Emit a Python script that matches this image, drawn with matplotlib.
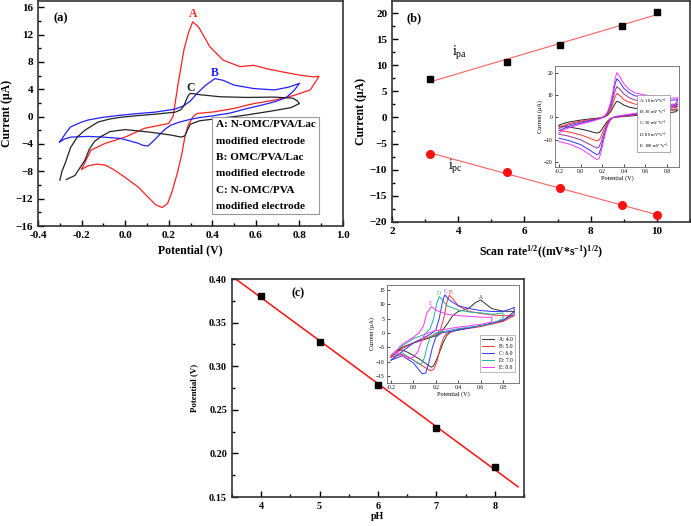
import numpy as np
import matplotlib
matplotlib.use("Agg")
import matplotlib.pyplot as plt
from matplotlib.ticker import MultipleLocator

plt.rcParams['font.family'] = ['Liberation Serif', 'DejaVu Serif']
plt.rcParams['font.weight'] = 'bold'
plt.rcParams['mathtext.fontset'] = 'custom'
plt.rcParams['mathtext.rm'] = 'Liberation Serif:weight=normal'
plt.rcParams['mathtext.bf'] = 'Liberation Serif:weight=bold'
plt.rcParams['mathtext.default'] = 'bf'

# ---------- panel (a): CV of three electrodes ----------
a_V_A = [-0.20, -0.157, -0.09, 0.0, 0.09, 0.20, 0.22, 0.243, 0.27, 0.29, 0.31, 0.337, 0.389, 0.45,
         0.527, 0.59, 0.65, 0.727, 0.804, 0.865, 0.89,
         0.85, 0.775, 0.685, 0.59, 0.50, 0.41, 0.33, 0.312, 0.29, 0.275, 0.26, 0.24, 0.215,
         0.195, 0.17, 0.14, 0.10, 0.06, 0.0, -0.05, -0.09, -0.13, -0.17, -0.20]
a_I_A = [-7.7, -4.9, -3.9, -3.0, -1.7, -1.0, 0.0, 4.8, 9.8, 12.2, 13.85, 13.1, 10.2, 8.25,
         7.3, 7.5, 7.0, 6.5, 6.05, 5.8, 5.9,
         3.9, 3.1, 2.4, 1.9, 1.2, 0.7, 0.45, 0.0, -1.2, -2.8, -5.5, -8.2, -11.0,
         -12.7, -13.3, -12.9, -11.6, -10.3, -8.9, -7.8, -7.1, -6.95, -7.2, -7.7]

a_V_B = [-0.30, -0.27, -0.25, -0.20, -0.17, -0.10, -0.02, 0.06, 0.137, 0.23, 0.27, 0.30, 0.33, 0.37,
         0.412, 0.45, 0.50, 0.59, 0.685, 0.75, 0.80,
         0.775, 0.74, 0.69, 0.63, 0.55, 0.48, 0.40, 0.33, 0.30, 0.25, 0.21, 0.185, 0.165, 0.135,
         0.105, 0.08, 0.06, -0.02, -0.10, -0.17, -0.25, -0.28, -0.30]
a_I_B = [-3.7, -2.3, -1.5, -0.8, -0.5, -0.1, 0.2, 0.45, 0.65, 1.1, 1.6, 2.3, 3.4, 4.6,
         5.55, 5.3, 4.6, 4.1, 3.9, 4.3, 4.85,
         3.8, 2.8, 2.2, 1.7, 1.1, 0.5, 0.1, -0.2, -0.4, -0.8, -1.25, -1.8, -2.4, -3.4,
         -4.3, -4.2, -3.9, -3.2, -3.0, -2.9, -3.0, -3.3, -3.7]

a_V_C = [-0.30, -0.29, -0.275, -0.25, -0.22, -0.185, -0.125, -0.07, -0.02, 0.06, 0.137, 0.23, 0.255,
         0.27, 0.28, 0.29, 0.30, 0.343, 0.435, 0.56, 0.68, 0.77, 0.79, 0.80,
         0.76, 0.67, 0.55, 0.45, 0.343, 0.30, 0.285, 0.275, 0.257, 0.21, 0.12, 0.06, 0.0,
         -0.07, -0.11, -0.14, -0.165, -0.185, -0.21, -0.23, -0.27]
a_I_C = [-9.3, -8.0, -6.8, -4.5, -3.0, -2.0, -0.8, -0.35, -0.1, 0.15, 0.35, 0.65, 1.0,
         1.6, 2.4, 3.1, 3.4, 3.2, 2.9, 2.8, 2.85, 2.7, 2.3, 1.9,
         1.3, 0.8, 0.2, -0.2, -0.6, -1.1, -2.0, -2.8, -3.0, -2.7, -2.3, -2.1, -1.9,
         -2.2, -2.9, -3.6, -4.8, -6.4, -7.6, -8.6, -9.2]

# ---------- panel (b): peak current vs sqrt(scan rate) ----------
b_x = [3.16, 5.48, 7.07, 8.94, 10.0]
b_ipa = [7.3, 10.7, 13.9, 17.6, 20.1]
b_ipc = [-7.0, -10.5, -13.5, -16.8, -18.7]

# inset (b): CVs at 10..100 mV/s
ib_Vf = [-0.2, -0.15, -0.1, 0.0, 0.1, 0.18, 0.22, 0.25, 0.28, 0.30, 0.32, 0.335, 0.36, 0.40, 0.45,
         0.5, 0.6, 0.7, 0.8, 0.9]
ib_Vr = [0.9, 0.88, 0.8, 0.7, 0.6, 0.5, 0.4, 0.33, 0.3, 0.27, 0.24, 0.21, 0.19, 0.17, 0.15, 0.12,
         0.08, 0.0, -0.1, -0.2]
ib_f = {
    'A': [-3.5, -2.6, -2.0, -1.2, -0.6, -0.2, 0.2, 1.0, 2.6, 4.5, 6.3, 7.2, 6.8, 5.5, 4.6, 4.1, 3.7,
          3.4, 3.2, 3.4],
    'B': [-4.5, -3.5, -2.7, -1.7, -0.9, -0.3, 0.3, 1.4, 3.7, 6.5, 9.3, 10.7, 9.9, 8.0, 6.8, 6.0, 5.3,
          4.8, 4.6, 5.0],
    'C': [-5.0, -4.0, -3.2, -2.1, -1.2, -0.4, 0.4, 1.8, 4.8, 8.5, 12.0, 13.8, 12.8, 10.5, 8.8, 7.8,
          7.0, 6.3, 5.8, 6.0],
    'D': [-6.0, -4.8, -3.9, -2.6, -1.5, -0.5, 0.5, 2.2, 6.0, 10.5, 15.0, 17.3, 16.0, 13.0, 11.0, 9.7,
          8.8, 8.0, 7.5, 8.0],
    'E': [-7.0, -5.5, -4.5, -3.0, -1.8, -0.6, 0.5, 2.5, 7.0, 12.0, 17.5, 20.0, 18.5, 15.0, 12.5, 11.0,
          10.0, 9.0, 8.5, 8.8],
}
ib_r = {
    'A': [3.4, 2.5, 2.0, 1.5, 1.1, 0.8, 0.4, 0.1, -0.1, -0.7, -2.2, -4.3, -5.9, -6.8, -7.0, -6.7,
          -6.1, -5.2, -4.4, -3.9],
    'B': [5.0, 3.8, 3.0, 2.2, 1.6, 1.1, 0.6, 0.2, -0.1, -0.9, -3.0, -6.0, -8.5, -10.2, -10.5, -10.0,
          -9.2, -7.8, -6.6, -5.8],
    'C': [6.0, 4.6, 3.6, 2.6, 1.9, 1.3, 0.7, 0.3, -0.1, -1.1, -3.8, -7.8, -11.0, -13.3, -13.7, -13.0,
          -12.0, -10.0, -8.5, -7.5],
    'D': [8.0, 5.5, 4.2, 3.0, 2.2, 1.6, 0.9, 0.4, 0.0, -1.3, -4.5, -9.5, -13.5, -16.3, -16.7, -15.8,
          -14.5, -12.2, -10.5, -9.3],
    'E': [8.8, 6.0, 4.5, 3.3, 2.5, 1.8, 1.0, 0.5, 0.0, -1.5, -5.0, -11.0, -15.5, -18.5, -18.8, -18.0,
          -16.5, -14.0, -12.0, -10.8],
}
ib_colors = {'A': '#222222', 'B': '#ff3333', 'C': '#993399', 'D': '#3333ff', 'E': '#ff33ff'}
ib_legend = [r'A: 10 mV*s$^{\mathrm{-1}}$', r'B: 30 mV*s$^{\mathrm{-1}}$', r'C: 50 mV*s$^{\mathrm{-1}}$',
             r'D: 80 mV*s$^{\mathrm{-1}}$', r'E: 100 mV*s$^{\mathrm{-1}}$']

# ---------- panel (c): formal potential vs pH ----------
c_pH = [4, 5, 6, 7, 8]
c_E = [0.381, 0.328, 0.278, 0.229, 0.184]

# inset (c): CVs at pH 4..8
ic_Vf = {
    'A': [-0.2, -0.1, 0.0, 0.1, 0.2, 0.25, 0.3, 0.35, 0.4, 0.45, 0.5, 0.55, 0.6, 0.65, 0.7, 0.8, 0.9],
    'B': [-0.2, -0.1, 0.0, 0.1, 0.2, 0.24, 0.27, 0.3, 0.32, 0.35, 0.4, 0.5, 0.6, 0.7, 0.8, 0.9],
    'C': [-0.2, -0.1, 0.0, 0.1, 0.15, 0.2, 0.23, 0.26, 0.28, 0.32, 0.4, 0.5, 0.6, 0.7, 0.8, 0.88, 0.9],
    'D': [-0.2, -0.1, 0.0, 0.1, 0.15, 0.18, 0.21, 0.23, 0.26, 0.3, 0.4, 0.5, 0.6, 0.7, 0.8],
    'E': [-0.2, -0.1, 0.0, 0.05, 0.09, 0.12, 0.16, 0.2, 0.3, 0.4, 0.5, 0.6, 0.7],
}
ic_If = {
    'A': [-8.0, -5.0, -3.5, -2.3, -1.0, 0.5, 3.0, 6.0, 7.5, 8.0, 8.8, 10.5, 11.5, 10.0, 8.5, 7.6, 7.5],
    'B': [-8.5, -5.5, -3.5, -2.0, -0.5, 1.0, 5.0, 11.0, 13.2, 12.0, 9.5, 7.5, 6.8, 6.3, 6.0, 6.0],
    'C': [-9.5, -6.5, -3.5, -1.5, -0.5, 1.0, 5.0, 11.0, 13.3, 11.5, 9.5, 8.5, 7.8, 7.5, 7.5, 8.5, 9.0],
    'D': [-8.0, -4.5, -2.0, -0.5, 1.5, 5.0, 10.5, 12.7, 11.5, 9.5, 8.0, 7.3, 7.0, 6.5, 7.0],
    'E': [-8.0, -4.0, -1.5, 0.0, 2.5, 7.0, 9.2, 8.0, 6.5, 6.0, 5.8, 5.5, 5.5],
}
ic_Vr = {
    'A': [0.9, 0.8, 0.7, 0.6, 0.5, 0.4, 0.33, 0.3, 0.27, 0.24, 0.21, 0.18, 0.16, 0.12, 0.05, -0.05,
          -0.1, -0.15, -0.2],
    'B': [0.9, 0.8, 0.6, 0.4, 0.3, 0.27, 0.24, 0.21, 0.18, 0.15, 0.1, 0.0, -0.1, -0.2],
    'C': [0.9, 0.8, 0.6, 0.4, 0.25, 0.2, 0.17, 0.14, 0.11, 0.08, 0.04, 0.0, -0.1, -0.2],
    'D': [0.8, 0.7, 0.6, 0.4, 0.2, 0.15, 0.12, 0.1, 0.07, 0.04, 0.0, -0.1, -0.2],
    'E': [0.7, 0.6, 0.4, 0.2, 0.1, 0.07, 0.04, 0.0, -0.05, -0.1, -0.15, -0.2],
}
ic_Ir = {
    'A': [7.5, 4.2, 3.2, 2.5, 1.8, 1.2, 0.3, -0.8, -3.0, -6.0, -9.0, -11.5, -12.0, -11.0, -9.0, -6.8,
          -6.0, -6.2, -8.0],
    'B': [6.0, 4.0, 2.2, 1.0, 0.0, -1.5, -5.0, -10.0, -12.8, -13.2, -12.0, -9.5, -7.5, -8.5],
    'C': [6.5, 4.5, 2.5, 1.0, 0.0, -1.5, -5.0, -10.0, -14.0, -14.3, -12.5, -10.5, -8.0, -9.5],
    'D': [5.0, 3.2, 2.5, 1.5, 0.0, -1.5, -5.0, -8.5, -11.0, -10.8, -9.5, -7.0, -8.0],
    'E': [3.8, 3.0, 2.0, 0.8, -0.5, -3.0, -6.5, -8.5, -9.0, -8.0, -6.5, -8.0],
}
ic_colors = {'A': '#333333', 'B': '#ff3333', 'C': '#3333ff', 'D': '#20b0a0', 'E': '#ff33ff'}
ic_legend = ['A: 4.0', 'B: 5.0', 'C: 6.0', 'D: 7.0', 'E: 8.0']


def style_main(ax, size=8):
    for s in ax.spines.values():
        s.set_linewidth(1.2)
        s.set_color('#333333')
    ax.tick_params(which='both', direction='in', top=False, right=False, labelsize=size, width=1)
    ax.tick_params(which='major', length=4)
    ax.tick_params(which='minor', length=2)
    for lab in ax.get_xticklabels() + ax.get_yticklabels():
        lab.set_fontweight('bold')


def style_inset(ax):
    for s in ax.spines.values():
        s.set_linewidth(0.6)
        s.set_color('#666666')
    ax.tick_params(which='both', direction='in', labelsize=4, width=0.5, length=2, pad=1.5)
    for lab in ax.get_xticklabels() + ax.get_yticklabels():
        lab.set_fontweight('normal')


fig = plt.figure(figsize=(6.91, 5.26), dpi=100)

# (a)
ax1 = fig.add_axes([0.055, 0.5703, 0.4414, 0.4278])
ax1.plot(a_V_A, a_I_A, color='#ff2020', lw=0.9)
ax1.plot(a_V_B, a_I_B, color='#2020ff', lw=0.9)
ax1.plot(a_V_C, a_I_C, color='#222222', lw=0.9)
ax1.set_xlim(-0.4, 1.0)
ax1.set_ylim(-16, 16.9)
ax1.xaxis.set_minor_locator(MultipleLocator(0.1))
ax1.yaxis.set_major_locator(MultipleLocator(4))
ax1.yaxis.set_minor_locator(MultipleLocator(2))
ax1.set_xticks(np.arange(-0.4, 1.01, 0.2))
ax1.set_xticklabels(['-0.4', '-0.2', '0.0', '0.2', '0.4', '0.6', '0.8', '1.0'])
style_main(ax1)
ax1.set_xlabel('Potential (V)', fontsize=8.5, fontweight='bold', labelpad=3)
ax1.set_ylabel('Current (μA)', fontsize=8.5, fontweight='bold', labelpad=2)
ax1.text(0.05, 0.95, '(a)', transform=ax1.transAxes, fontsize=9, fontweight='bold', va='top')
ax1.text(0.31, 14.6, 'A', color='#ff2020', fontsize=8.5, fontweight='bold', ha='center')
ax1.text(0.41, 5.9, 'B', color='#2020ff', fontsize=8.5, fontweight='bold', ha='center')
ax1.text(0.30, 3.7, 'C', color='#222222', fontsize=8.5, fontweight='bold', ha='center')
ax1.text(0.583, 0.47, 'A: N-OMC/PVA/Lac\nmodified electrode\nB: OMC/PVA/Lac\nmodified electrode\n'
         'C: N-OMC/PVA\nmodified electrode', transform=ax1.transAxes, fontsize=8.1, fontweight='bold',
         va='top', ha='left', linespacing=2.05,
         bbox=dict(boxstyle='square,pad=0.3', fc='white', ec='#999999', lw=0.8))

# (b)
ax2 = fig.add_axes([0.5673, 0.578, 0.4313, 0.4201])
fit_a = np.polyfit(b_x, b_ipa, 1)
fit_c = np.polyfit(b_x, b_ipc, 1)
xx = np.array([b_x[0], b_x[-1]])
ax2.plot(xx, np.polyval(fit_a, xx), color='#ff6060', lw=0.8)
ax2.plot(xx, np.polyval(fit_c, xx), color='#ff6060', lw=0.8)
ax2.plot(b_x, b_ipa, 's', color='black', ms=5)
ax2.plot(b_x, b_ipc, 'o', color='#ff1010', ms=5.5)
ax2.set_xlim(2, 11)
ax2.set_ylim(-20, 22.3)
ax2.xaxis.set_major_locator(MultipleLocator(2))
ax2.xaxis.set_minor_locator(MultipleLocator(1))
ax2.yaxis.set_major_locator(MultipleLocator(5))
ax2.yaxis.set_minor_locator(MultipleLocator(2.5))
style_main(ax2)
ax2.set_xlabel('Scan rate$^{1/2}$((mV*s$^{-1}$)$^{1/2}$)', fontsize=8.5, fontweight='bold', labelpad=6)
ax2.set_ylabel('Current (μA)', fontsize=8.5, fontweight='bold', labelpad=2)
ax2.text(0.05, 0.95, '(b)', transform=ax2.transAxes, fontsize=9, fontweight='bold', va='top')
ax2.text(3.8, 11.7, r'$\mathrm{i}_{\mathrm{pa}}$', fontsize=10, fontweight='normal')
ax2.text(3.7, -10.0, r'$\mathrm{i}_{\mathrm{pc}}$', fontsize=10, fontweight='normal')

# inset (b)
axb = fig.add_axes([0.8032, 0.6825, 0.1795, 0.192])
for k in ['A', 'B', 'C', 'D', 'E']:
    axb.plot(ib_Vf + ib_Vr, ib_f[k] + ib_r[k], color=ib_colors[k], lw=0.7)
axb.set_xlim(-0.237, 0.911)
axb.set_ylim(-22.2, 23)
axb.set_xticks([-0.2, 0.0, 0.2, 0.4, 0.6, 0.8])
axb.set_xticklabels(['-0.2', '0.0', '0.2', '0.4', '0.6', '0.8'])
axb.set_yticks([-20, -10, 0, 10, 20])
style_inset(axb)
axb.set_xlabel('Potential (V)', fontsize=4.5, fontweight='normal', labelpad=1)
axb.set_ylabel('Current (μA)', fontsize=4.5, fontweight='normal', labelpad=1)
axb.text(0.675, 0.16, '\n'.join(ib_legend), transform=axb.transAxes, fontsize=3.3, fontweight='normal',
         va='bottom', ha='left', linespacing=1.3,
         bbox=dict(boxstyle='square,pad=0.35', fc='white', ec='#888888', lw=0.5))

# (c)
ax3 = fig.add_axes([0.3357, 0.0551, 0.4226, 0.4144])
fit_p = np.polyfit(c_pH, c_E, 1)
xl = np.array([3.58, 8.4])
ax3.plot(xl, np.polyval(fit_p, xl), color='#ff1010', lw=1.1)
ax3.plot(c_pH, c_E, 's', color='black', ms=4.5)
ax3.set_xlim(3.5, 8.5)
ax3.set_ylim(0.15, 0.40)
ax3.xaxis.set_major_locator(MultipleLocator(1))
ax3.xaxis.set_minor_locator(MultipleLocator(0.5))
ax3.yaxis.set_minor_locator(MultipleLocator(0.025))
ax3.set_yticks([0.15, 0.20, 0.25, 0.30, 0.35, 0.40])
ax3.set_yticklabels(['0.15', '0.20', '0.25', '0.30', '0.35', '0.40'])
style_main(ax3, size=7.3)
ax3.set_xlabel('pH', fontsize=7.2, fontweight='bold', labelpad=1)
ax3.set_ylabel('Potential (V)', fontsize=6.3, fontweight='bold', labelpad=8)
ax3.text(0.205, 0.96, '(c)', transform=ax3.transAxes, fontsize=8.5, fontweight='bold', va='top')

# inset (c)
axc = fig.add_axes([0.5601, 0.2719, 0.191, 0.1863])
for k in ['A', 'B', 'C', 'D', 'E']:
    axc.plot(ic_Vf[k] + ic_Vr[k], ic_If[k] + ic_Ir[k], color=ic_colors[k], lw=0.7,
             label=ic_legend['ABCDE'.index(k)])
axc.set_xlim(-0.236, 0.943)
axc.set_ylim(-17.5, 16.75)
axc.set_xticks([-0.2, 0.0, 0.2, 0.4, 0.6, 0.8])
axc.set_xticklabels(['-0.2', '0.0', '0.2', '0.4', '0.6', '0.8'])
axc.set_yticks([-15, -10, -5, 0, 5, 10, 15])
style_inset(axc)
axc.set_xlabel('Potential (V)', fontsize=4.5, fontweight='normal', labelpad=1)
axc.set_ylabel('Current (μA)', fontsize=4.5, fontweight='normal', labelpad=1)
leg = axc.legend(loc='lower right', fontsize=4, frameon=True, fancybox=False, handlelength=2.2,
                 borderpad=0.4, labelspacing=0.35, edgecolor='#888888', bbox_to_anchor=(0.99, 0.08))
leg.get_frame().set_linewidth(0.5)
for t in leg.get_texts():
    t.set_fontweight('normal')
for k, x, y in [('A', 0.60, 12.0), ('B', 0.335, 13.6), ('C', 0.285, 13.8), ('D', 0.225, 13.3),
                ('E', 0.15, 9.7)]:
    axc.text(x, y, k, color=ic_colors[k], fontsize=4, fontweight='normal', ha='center')

fig.savefig('out.png', dpi=100)
